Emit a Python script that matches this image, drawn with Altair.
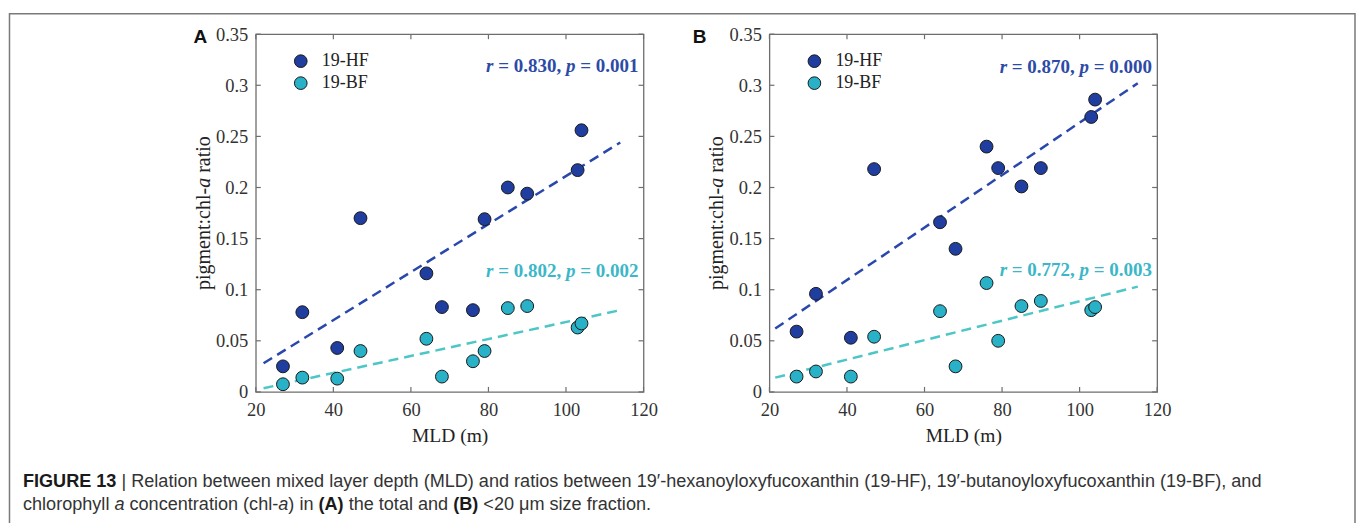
import altair as alt
import pandas as pd

# ---------------- data ----------------
mld = [27, 32, 41, 47, 64, 68, 76, 79, 85, 90, 103, 104]
a_hf = [0.025, 0.078, 0.043, 0.170, 0.116, 0.083, 0.080, 0.169, 0.200, 0.194, 0.217, 0.256]
a_bf = [0.0075, 0.014, 0.013, 0.040, 0.052, 0.015, 0.030, 0.040, 0.082, 0.084, 0.063, 0.067]
b_hf = [0.059, 0.096, 0.053, 0.218, 0.166, 0.140, 0.240, 0.219, 0.201, 0.219, 0.269, 0.286]
b_bf = [0.015, 0.020, 0.015, 0.054, 0.079, 0.025, 0.1065, 0.050, 0.084, 0.089, 0.080, 0.083]

fit_x_a = [22, 114]
a_hf_fit = [0.028, 0.244]
a_bf_fit = [0.0036, 0.080]
fit_x_b = [21.5, 115]
b_hf_fit = [0.062, 0.302]
b_bf_fit = [0.014, 0.103]

ann_a = [("0.830", "0.001"), ("0.802", "0.002")]
ann_b = [("0.870", "0.000"), ("0.772", "0.003")]
ann_x = 118.7
ann_y_a = [0.3187, 0.118]
ann_y_b = [0.318, 0.119]

x_ticks = [20, 40, 60, 80, 100, 120]
y_ticks = [0, 0.05, 0.1, 0.15, 0.2, 0.25, 0.3, 0.35]
series = ["19-HF", "19-BF"]

colors = ["#203EA0", "#29B1C7"]
line_colors = ["#2A48AC", "#4CC6C6"]
text_colors = ["#2D4BA6", "#3CB7C8"]

caption1 = [("FIGURE 13 ", "b", "#1a1a1a"),
            ("| Relation between mixed layer depth (MLD) and ratios between 19\u2032-hexanoyloxyfucoxanthin (19-HF), "
             "19\u2032-butanoyloxyfucoxanthin (19-BF), and", "r", "#333333")]
caption2 = [("chlorophyll ", "r", "#333333"), ("a", "i", "#333333"),
            (" concentration (chl-", "r", "#333333"), ("a", "i", "#333333"),
            (") in ", "r", "#333333"), ("(A)", "b", "#1a1a1a"),
            (" the total and ", "r", "#333333"), ("(B)", "b", "#1a1a1a"),
            (" <20 \u03bcm size fraction.", "r", "#333333")]
ytitle = [("pigment:chl-", "r", "#222222"), ("a", "i", "#222222"), (" ratio", "r", "#222222")]

W, H = 388, 358
SERIF = "Liberation Serif"
SANS = "Liberation Sans"

# ---------------- font metrics (per 1000 em) for piecewise rich text ----------------
HELV = dict(zip(" abcdefghijklmnopqrstuvwxyz",
                [278, 556, 556, 500, 556, 556, 278, 556, 556, 222, 222, 500, 222, 833, 556, 556, 556, 556,
                 333, 500, 278, 556, 500, 722, 500, 500, 500]))
HELV.update(dict(zip("ABCDEFGHIJKLMNOPQRSTUVWXYZ",
                     [667, 667, 722, 722, 667, 611, 778, 722, 278, 500, 667, 556, 833, 722, 778, 667, 778,
                      722, 667, 611, 722, 667, 944, 667, 667, 611])))
HELV.update({"(": 333, ")": 333, ",": 278, "-": 333, ".": 278, "<": 584, "|": 260, "\u2032": 190,
             "\u03bc": 576})
for d in "0123456789":
    HELV[d] = 556
HELV_B = dict(HELV)
HELV_B.update({"A": 722, "B": 722, "E": 667, "F": 611, "G": 778, "I": 278, "R": 722, "U": 722, "|": 280})
SANS_TABLES = {"r": HELV, "i": HELV, "b": HELV_B, "bi": HELV_B}

TIMES_R = {"p": 500, "i": 278, "g": 500, "m": 778, "e": 444, "n": 500, "t": 278, ":": 278, "c": 444,
           "h": 500, "l": 278, "-": 333, " ": 250, "r": 333, "a": 444, "o": 500}
TIMES_I = {"a": 500}
TIMES_B = {" ": 250, "=": 570, ".": 250, ",": 250, "r": 444, "p": 556}
for d in "0123456789":
    TIMES_B[d] = 500
TIMES_BI = {"r": 389, "p": 500}
SERIF_TABLES = {"r": TIMES_R, "i": TIMES_I, "b": TIMES_B, "bi": TIMES_BI}


def em_width(text, table):
    return sum(table.get(c, 500) for c in text) / 1000.0


def layout(pieces, fs, tables, anchor="left"):
    """Split rich text into pieces; leading/trailing spaces become offsets (they get trimmed)."""
    widths = [em_width(t, tables[s]) * fs for t, s, c in pieces]
    total = sum(widths)
    cur = {"left": 0.0, "center": -total / 2.0, "right": -total}[anchor]
    out = []
    for (t, s, c), w in zip(pieces, widths):
        lead = t[: len(t) - len(t.lstrip(" "))]
        lead_w = em_width(lead, tables[s]) * fs
        out.append((t.strip(" "), s, c, cur + lead_w))
        cur += w
    return out


def style_kw(s):
    return dict(fontWeight="bold" if "b" in s else "normal",
                fontStyle="italic" if "i" in s else "normal")


def pixel_text(pieces, x, y, fs, font, tables, anchor="left", angle=0):
    layers = []
    for t, s, c, dx in layout(pieces, fs, tables, anchor):
        layers.append(
            alt.Chart(pd.DataFrame({"t": [t]})).mark_text(
                align="left", baseline="middle", dx=dx, angle=angle, font=font, fontSize=fs, color=c,
                **style_kw(s)
            ).encode(x=alt.value(x), y=alt.value(y), text="t:N")
        )
    return layers


xs = alt.Scale(domain=[20, 120], nice=False, zero=False)
ys = alt.Scale(domain=[0, 0.35], nice=False, zero=False)

x_axis = alt.Axis(values=x_ticks, format="d", title="MLD (m)", ticks=False, tickSize=0, domain=False,
                  grid=False, labelPadding=9, titlePadding=7, labelFont=SERIF, labelFontSize=18.5,
                  labelColor="#333333", titleFont=SERIF, titleFontSize=19.5, titleFontWeight="normal",
                  titleColor="#222222", labelFlush=False)
y_axis = alt.Axis(values=y_ticks, format=".2~f", title=None, ticks=False, tickSize=0, domain=False,
                  grid=False, labelPadding=8, labelFont=SERIF, labelFontSize=18.5, labelColor="#333333",
                  labelFlush=False)


def X(field):
    return alt.X(field, scale=xs, axis=x_axis, title="MLD (m)")


def Y(field):
    return alt.Y(field, scale=ys, axis=y_axis, title=None)


def data_text(pieces, xv, yv, fs):
    layers = []
    for t, s, c, dx in layout(pieces, fs, SERIF_TABLES, "right"):
        layers.append(
            alt.Chart(pd.DataFrame({"MLD": [xv], "ratio": [yv], "t": [t]})).mark_text(
                align="left", baseline="middle", dx=dx, font=SERIF, fontSize=fs, color=c, **style_kw(s)
            ).encode(x=X("MLD:Q"), y=Y("ratio:Q"), text="t:N")
        )
    return layers


legend = alt.Legend(orient="none", legendX=36, legendY=18, title=None, symbolType="circle",
                    symbolSize=160, symbolStrokeColor="#1a1a1a", symbolStrokeWidth=1, symbolOpacity=1,
                    labelFont=SERIF, labelFontSize=18, labelColor="#222222", labelOffset=12,
                    rowPadding=4, padding=0)

TICK = "#6e6e6e"


def tick_layers():
    xt = pd.DataFrame({"MLD": x_ticks})
    yt = pd.DataFrame({"ratio": y_ticks})
    rule = dict(color=TICK, strokeWidth=1.2)
    return [
        alt.Chart(xt).mark_rule(**rule).encode(x=X("MLD:Q"), y=alt.value(H), y2=alt.value(H - 5)),
        alt.Chart(xt).mark_rule(**rule).encode(x=X("MLD:Q"), y=alt.value(0), y2=alt.value(5)),
        alt.Chart(yt).mark_rule(**rule).encode(y=Y("ratio:Q"), x=alt.value(0), x2=alt.value(5)),
        alt.Chart(yt).mark_rule(**rule).encode(y=Y("ratio:Q"), x=alt.value(W), x2=alt.value(W - 5)),
    ]


def panel(hf, bf, fit_x, hf_fit, bf_fit, ann, ann_y, letter, letter_x, extra_before=(), extra_after=()):
    pts = pd.DataFrame({"MLD": mld + mld, "ratio": hf + bf,
                        "pigment": [series[0]] * len(mld) + [series[1]] * len(mld)})
    points = alt.Chart(pts).mark_circle(size=165, opacity=1, stroke="#1a1a1a", strokeWidth=1).encode(
        x=X("MLD:Q"),
        y=Y("ratio:Q"),
        color=alt.Color("pigment:N", scale=alt.Scale(domain=series, range=colors), legend=legend),
    )
    lines = []
    for fy, lc in [(hf_fit, line_colors[0]), (bf_fit, line_colors[1])]:
        lines.append(
            alt.Chart(pd.DataFrame({"MLD": fit_x, "ratio": fy})).mark_line(
                strokeDash=[10, 6], strokeWidth=2.5, color=lc
            ).encode(x=X("MLD:Q"), y=Y("ratio:Q"))
        )
    anns = []
    for (rv, pv), yv, tc in zip(ann, ann_y, text_colors):
        pieces = [("r", "bi", tc), (" = " + rv + ", ", "b", tc), ("p", "bi", tc), (" = " + pv, "b", tc)]
        anns += data_text(pieces, ann_x, yv, 19)
    letter_layer = alt.Chart(pd.DataFrame({"t": [letter]})).mark_text(
        font=SANS, fontWeight="bold", fontSize=19, color="#111111", align="center", baseline="middle"
    ).encode(x=alt.value(letter_x), y=alt.value(2.5), text="t:N")
    ytl = pixel_text(ytitle, -52, H / 2, 20, SERIF, SERIF_TABLES, anchor="center", angle=270)
    layers = list(extra_before) + tick_layers() + lines + [points] + anns + [letter_layer] + ytl + list(extra_after)
    return alt.layer(*layers).properties(width=W, height=H)


frame = alt.Chart(pd.DataFrame({"f": [0]})).mark_rect(
    fill="white", fillOpacity=0, stroke="#7a7a7a", strokeWidth=1.5
).encode(x=alt.value(-246.5), x2=alt.value(1100), y=alt.value(-20.5), y2=alt.value(520))

line1_em = sum(em_width(t, SANS_TABLES[s]) for t, s, c in caption1)
cap_fs = round(1240.0 / line1_em, 2)
cap_layers = pixel_text(caption1, 22 - 255, 481 - 33, cap_fs, SANS, SANS_TABLES) + \
    pixel_text(caption2, 22 - 255, 504 - 33, cap_fs, SANS, SANS_TABLES)

panel_a = panel(a_hf, a_bf, fit_x_a, a_hf_fit, a_bf_fit, ann_a, ann_y_a, "A", -55.5,
                extra_before=[frame], extra_after=cap_layers)
panel_b = panel(b_hf, b_bf, fit_x_b, b_hf_fit, b_bf_fit, ann_b, ann_y_b, "B", -70)

chart = alt.hconcat(panel_a, panel_b, spacing=126, bounds="flush").resolve_scale(
    color="independent"
).properties(
    padding={"left": 8, "top": 12, "right": 0, "bottom": 0}, background="white"
).configure_view(stroke="#6e6e6e", strokeWidth=1.3)

chart.save("out.html", embed_options={"renderer": "svg", "actions": False})
